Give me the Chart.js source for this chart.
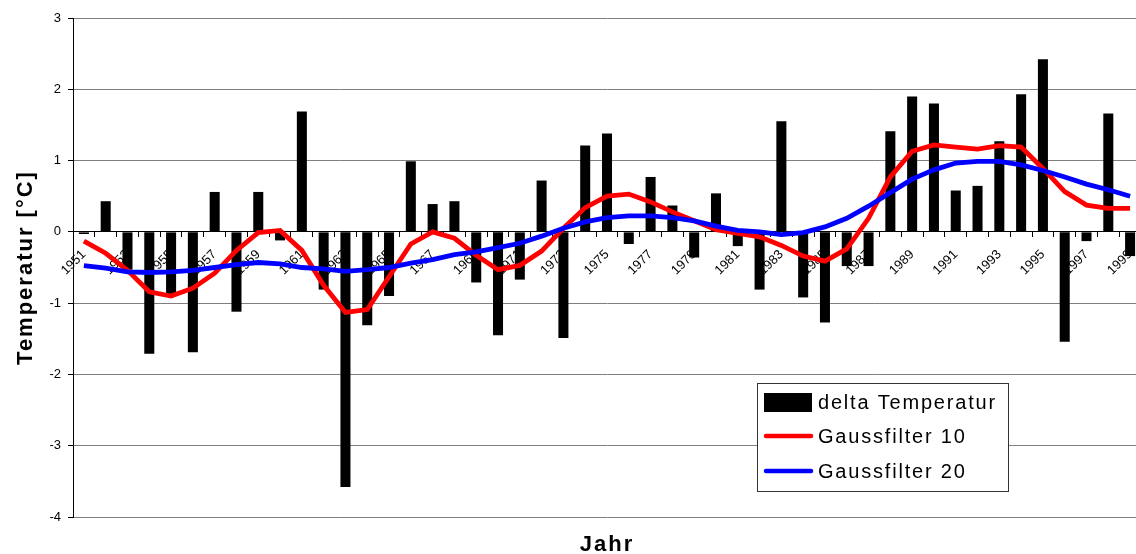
<!DOCTYPE html>
<html>
<head>
<meta charset="utf-8">
<script src="https://cdn.jsdelivr.net/npm/chart.js@4/dist/chart.umd.min.js"></script>
<style>
  html, body { margin: 0; padding: 0; background: #fff; overflow: hidden; }
  #wrap { width: 1141px; height: 554px; }
</style>
</head>
<body>
<div id="wrap"><canvas id="chart"></canvas></div>
<script>
// years 1951 - 1999
var years = [];
for (var y = 1951; y <= 1999; y++) years.push(String(y));

// yearly deviation (bars)
var deltaTemp = [
  -0.03, 0.43, -0.53, -1.71, -0.87, -1.69, 0.56, -1.12, 0.56, -0.12,
  1.69, -0.81, -3.58, -1.31, -0.90, 0.99, 0.39, 0.43, -0.71, -1.45,
  -0.67, 0.72, -1.49, 1.21, 1.38, -0.17, 0.77, 0.37, -0.36, 0.54,
  -0.20, -0.81, 1.55, -0.92, -1.27, -0.48, -0.48, 1.41, 1.90, 1.80,
  0.58, 0.645, 1.27, 1.93, 2.42, -1.54, -0.13, 1.66, -0.34
];

// smoothed curves
var gauss10 = [
  -0.13, -0.30, -0.54, -0.84, -0.90, -0.79, -0.58, -0.26, -0.01, 0.02,
  -0.26, -0.75, -1.13, -1.09, -0.63, -0.17, 0.0, -0.09, -0.33, -0.53,
  -0.47, -0.27, 0.05, 0.34, 0.50, 0.53, 0.42, 0.28, 0.155, 0.03,
  -0.02, -0.07, -0.19, -0.34, -0.41, -0.24, 0.19, 0.77, 1.13, 1.22,
  1.19, 1.16, 1.21, 1.19, 0.89, 0.565, 0.375, 0.33, 0.33
];
var gauss20 = [
  -0.475, -0.51, -0.56, -0.57, -0.56, -0.54, -0.50, -0.46, -0.43, -0.45,
  -0.50, -0.52, -0.555, -0.53, -0.50, -0.44, -0.39, -0.32, -0.28, -0.22,
  -0.16, -0.06, 0.05, 0.14, 0.20, 0.225, 0.225, 0.20, 0.155, 0.08,
  0.02, 0.0, -0.04, -0.01, 0.07, 0.19, 0.36, 0.55, 0.74, 0.87,
  0.965, 0.99, 0.99, 0.94, 0.86, 0.77, 0.67, 0.59, 0.50
];

var yTicksMin = -4, yTicksMax = 3;

// legend box + axis titles drawn on the canvas
const extras = {
  id: 'extras',
  afterDraw(chart) {
    const ctx = chart.ctx, a = chart.chartArea;
    ctx.save();
    ctx.fillStyle = '#000';
    ctx.letterSpacing = '2px';
    ctx.font = 'bold 22px "Liberation Sans", Arial, sans-serif';
    ctx.textAlign = 'center';
    ctx.textBaseline = 'middle';
    ctx.fillText('Jahr', (a.left + a.right) / 2, 545);
    ctx.save();
    ctx.translate(26, (a.top + a.bottom) / 2);
    ctx.rotate(-Math.PI / 2);
    ctx.fillText('Temperatur [°C]', 0, 0);
    ctx.restore();

    // legend
    const lx = 757, ly = 383, lw = 251, lh = 108;
    ctx.fillStyle = '#fff';
    ctx.fillRect(lx, ly, lw, lh);
    ctx.strokeStyle = '#333';
    ctx.lineWidth = 1;
    ctx.strokeRect(lx + 0.5, ly + 0.5, lw, lh);
    ctx.font = '20px "Liberation Sans", Arial, sans-serif';
    ctx.letterSpacing = '1.8px';
    ctx.textAlign = 'left';
    const rows = [402, 436, 471];
    chart.data.datasets.forEach((ds, i) => {
      const ry = rows[i];
      if (ds.type === 'line') {
        ctx.strokeStyle = ds.borderColor;
        ctx.lineWidth = 4.5;
        ctx.lineCap = 'round';
        ctx.beginPath();
        ctx.moveTo(766, ry);
        ctx.lineTo(811, ry);
        ctx.stroke();
      } else {
        ctx.fillStyle = ds.backgroundColor;
        ctx.fillRect(764, ry - 9, 48, 19);
      }
      ctx.fillStyle = '#000';
      ctx.fillText(ds.label, 818, ry + 1);
    });
    ctx.restore();
  }
};

new Chart(document.getElementById('chart'), {
  type: 'bar',
  data: {
    labels: years,
    datasets: [
      {
        type: 'bar',
        label: 'delta Temperatur',
        data: deltaTemp,
        backgroundColor: '#000',
        barPercentage: 0.46,
        categoryPercentage: 1,
        order: 3
      },
      {
        type: 'line',
        label: 'Gaussfilter 10',
        data: gauss10,
        borderColor: '#ff0000',
        borderWidth: 4.8,
        pointRadius: 0,
        tension: 0,
        fill: false,
        order: 2
      },
      {
        type: 'line',
        label: 'Gaussfilter 20',
        data: gauss20,
        borderColor: '#0000ff',
        borderWidth: 4.8,
        pointRadius: 0,
        tension: 0,
        fill: false,
        order: 1
      }
    ]
  },
  options: {
    responsive: true,
    maintainAspectRatio: false,
    animation: false,
    layout: { padding: { left: 0, right: 0, top: 18, bottom: 37 } },
    plugins: {
      legend: { display: false },
      tooltip: { enabled: false }
    },
    scales: {
      x: {
        position: { y: 0 },
        offset: true,
        afterFit: function (scale) {
          // the rotated labels need no room on the sides
          scale.paddingLeft = 0;
          scale.paddingRight = 0;
        },
        grid: {
          offset: true,
          drawOnChartArea: false,
          drawTicks: true,
          tickLength: 5,
          tickColor: '#000'
        },
        border: { color: '#000', width: 1 },
        ticks: {
          autoSkip: false,
          minRotation: 45,
          maxRotation: 45,
          padding: 10,
          color: '#000',
          font: { family: '"Liberation Sans", Arial, sans-serif', size: 13 },
          callback: function (value, index) {
            return index % 2 === 0 ? this.getLabelForValue(value) : '';
          }
        }
      },
      y: {
        min: yTicksMin,
        max: yTicksMax,
        afterFit: function (scale) { scale.width = 73; },
        grid: {
          color: '#7f7f7f',
          lineWidth: 1,
          tickLength: 5,
          tickColor: '#000'
        },
        border: { color: '#000', width: 1 },
        ticks: {
          stepSize: 1,
          padding: 7,
          color: '#000',
          font: { family: '"Liberation Sans", Arial, sans-serif', size: 13 }
        }
      }
    }
  },
  plugins: [extras]
});
</script>
</body>
</html>
